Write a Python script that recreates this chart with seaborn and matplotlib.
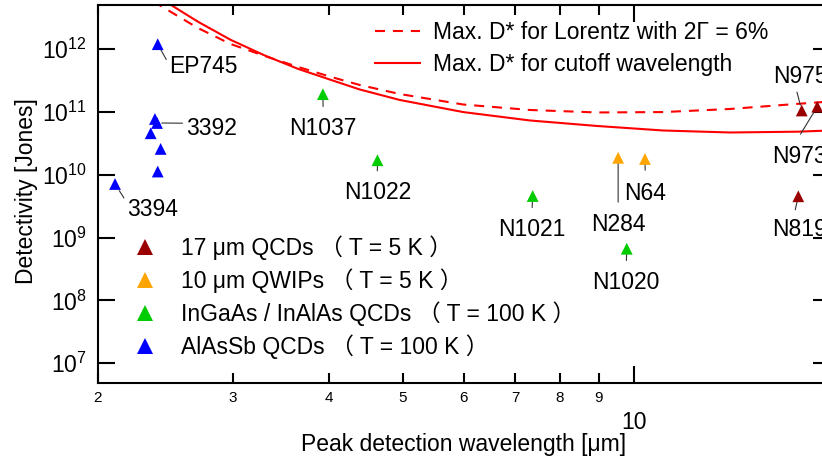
import numpy as np
import pandas as pd
import matplotlib
matplotlib.use("Agg")
import matplotlib.pyplot as plt
import seaborn as sns
from matplotlib.lines import Line2D
from matplotlib.ticker import FixedLocator, FixedFormatter, LogLocator, NullLocator

# ---------------- data ----------------
groups = ["17 μm QCDs", "10 μm QWIPs", "InGaAs / InAlAs QCDs", "AlAsSb QCDs"]
legend_labels = ["17 μm QCDs （ T = 5 K ）", "10 μm QWIPs （ T = 5 K ）",
                 "InGaAs / InAlAs QCDs （ T = 100 K ）", "AlAsSb QCDs （ T = 100 K ）"]
group_colors = ["#9A0000", "#FFA500", "#00CC00", "#0000FF"]

qcd17_names = ["N975", "N973", "N819"]
qcd17_wl = [16.56, 17.35, 16.39]
qcd17_D = [1.06e11, 1.22e11, 4.56e9]

qwip_names = ["N284", "N64"]
qwip_wl = [9.54, 10.34]
qwip_D = [1.87e10, 1.79e10]

ingaas_names = ["N1037", "N1022", "N1021", "N1020"]
ingaas_wl = [3.93, 4.63, 7.38, 9.79]
ingaas_D = [1.93e11, 1.71e10, 4.61e9, 6.66e8]

alassb_names = ["EP745", "", "3392", "", "", "", "3394"]
alassb_wl = [2.393, 2.373, 2.388, 2.343, 2.414, 2.393, 2.105]
alassb_D = [1.205e12, 7.76e10, 6.70e10, 4.60e10, 2.59e10, 1.13e10, 7.16e9]

# theoretical limits
lorentz_wl = [2.36, 2.70, 2.98, 3.30, 3.65, 4.03, 4.39, 4.95, 5.99, 7.32, 8.95, 10.92, 13.35, 16.33, 18.0]
lorentz_D = [5.8e12, 2.18e12, 1.21e12, 7.82e11, 5.22e11, 3.62e11, 2.70e11, 1.94e11, 1.32e11,
             1.08e11, 9.86e10, 1.0e11, 1.12e11, 1.35e11, 1.47e11]
cutoff_wl = [2.47, 2.70, 2.98, 3.30, 3.65, 4.03, 4.39, 4.95, 5.99, 7.32, 8.95, 10.92, 13.35, 16.33, 18.0]
cutoff_D = [5.4e12, 2.75e12, 1.41e12, 7.97e11, 4.86e11, 3.24e11, 2.29e11, 1.56e11, 1.0e11,
            7.35e10, 6.01e10, 5.09e10, 4.73e10, 4.87e10, 5.09e10]
line_labels = ["Max. D* for Lorentz with 2Γ = 6%", "Max. D* for cutoff wavelength"]

# ---------------- layout / style ----------------
# label layout: name -> (dx px, dy px (up +) to baseline, ha, relpos, shrinkA pt, shrinkB pt)
label_layout = {
    "EP745": (11.3, -29.1, "left", (0.0, 0.6), 0.0, 4.5),
    "3392": (28.7, -12.0, "left", (0.0, 0.73), 0.3, 3.4),
    "3394": (11.7, -32.0, "left", (0.0, 0.81), 0.0, 5.7),
    "N1037": (0.4, -40.8, "center", (0.5, 1.0), 5.5, 4.0),
    "N1022": (-0.2, -39.0, "center", (0.5, 1.0), 5.5, 4.0),
    "N1021": (-1.0, -40.0, "center", (0.5, 1.0), 5.5, 4.0),
    "N1020": (-0.7, -40.2, "center", (0.5, 1.0), 5.5, 4.0),
    "N284": (0.0, -73.2, "center", (0.5, 1.0), 5.8, 4.0),
    "N64": (0.5, -41.0, "center", (0.5, 1.0), 6.5, 4.0),
    "N975": (-28.7, 27.2, "left", (0.42, 0.0), 0.8, 4.0),
    "N973": (-45.3, -56.6, "left", (0.4, 1.0), 7.0, 2.0),
    "N819": (-26.3, -39.7, "left", (0.39, 1.0), 4.0, 4.0),
}

plt.rcParams.update({
    "mathtext.fontset": "custom",
    "mathtext.rm": "Liberation Sans",
    "mathtext.it": "Liberation Sans:italic",
    "mathtext.bf": "Liberation Sans:bold",
    "axes.linewidth": 1.5,
})
plt.rcParams["font.family"] = ["Liberation Sans", "Noto Sans CJK JP", "DejaVu Sans"]

W, H = 822, 461
fig = plt.figure(figsize=(W / 100, H / 100), dpi=100)
ax = fig.add_axes([98 / W, 1 - 383 / H, 731.5 / W, 378 / H])
ax.set_xscale("log")
ax.set_yscale("log")

# ---------------- curves ----------------
sns.lineplot(x=lorentz_wl, y=lorentz_D, ax=ax, color="#FF0000", lw=1.5, sort=False,
             estimator=None, zorder=2)
ax.get_lines()[-1].set_linestyle((0, (4.8, 3.8)))
sns.lineplot(x=cutoff_wl, y=cutoff_D, ax=ax, color="#FF0000", lw=1.5, sort=False,
             estimator=None, zorder=2)

# ---------------- points ----------------
all_names = qcd17_names + qwip_names + ingaas_names + alassb_names
all_wl = qcd17_wl + qwip_wl + ingaas_wl + alassb_wl
all_D = qcd17_D + qwip_D + ingaas_D + alassb_D
all_grp = ([groups[0]] * len(qcd17_wl) + [groups[1]] * len(qwip_wl)
           + [groups[2]] * len(ingaas_wl) + [groups[3]] * len(alassb_wl))
df = pd.DataFrame({"wl": all_wl, "D": all_D, "group": all_grp, "name": all_names})
sns.scatterplot(data=df, x="wl", y="D", hue="group", palette=dict(zip(groups, group_colors)),
                marker="^", s=72, linewidth=0, legend=False, ax=ax, zorder=4)

# ---------------- annotations ----------------
for _, r in df.iterrows():
    if not r["name"]:
        continue
    dx, dy, ha, relpos, sA, sB = label_layout[r["name"]]
    ax.annotate(r["name"], xy=(r["wl"], r["D"]), xytext=(dx * 0.72, dy * 0.72),
                textcoords="offset points", ha=ha, va="baseline", fontsize=16.5,
                color="black", annotation_clip=False,
                arrowprops=dict(arrowstyle="-", color="#333333", lw=0.8,
                                relpos=relpos, shrinkA=sA, shrinkB=sB),
                zorder=3)

# ---------------- axes ----------------
ax.set_xlim(2, 18)
ax.set_ylim(4.85e6, 5.07e12)
ax.xaxis.set_major_locator(FixedLocator([10]))
ax.xaxis.set_major_formatter(FixedFormatter(["10"]))
ax.xaxis.set_minor_locator(FixedLocator([2, 3, 4, 5, 6, 7, 8, 9]))
ax.xaxis.set_minor_formatter(FixedFormatter(["2", "3", "4", "5", "6", "7", "8", "9"]))
ax.yaxis.set_major_locator(LogLocator(base=10, numticks=20))
ax.yaxis.set_minor_locator(NullLocator())
ax.tick_params(axis="both", which="both", direction="in", top=True, right=True,
               colors="black", width=1.5)
ax.tick_params(axis="y", which="major", length=12, labelsize=16.5, pad=8)
ax.tick_params(axis="x", which="major", length=12, labelsize=16.5, pad=20)
ax.tick_params(axis="x", which="minor", length=7, labelsize=11, pad=6)

ax.set_xlabel("Peak detection wavelength [μm]", fontsize=16.5)
ax.xaxis.set_label_coords(0.4997, -(433 - 383) / 378)
ax.set_ylabel("Detectivity [Jones]", fontsize=16.5)
ax.yaxis.set_label_coords((38 - 98) / 731.5, 0.5066)

# ---------------- legends ----------------
line_handles = [Line2D([], [], color="#FF0000", lw=1.5, linestyle=(0, (4.8, 3.8))),
                Line2D([], [], color="#FF0000", lw=1.5)]
leg1 = ax.legend(line_handles, line_labels, loc="center left",
                 bbox_to_anchor=(375 / W, 1 - 48.5 / H), bbox_transform=fig.transFigure,
                 frameon=False, fontsize=16.5, handlelength=1.97, handletextpad=0.55,
                 labelspacing=0.37, borderpad=0, borderaxespad=0)
ax.add_artist(leg1)

marker_handles = [Line2D([], [], marker="^", color=c, linestyle="none", markersize=11,
                         markeredgewidth=0) for c in group_colors]
leg2 = ax.legend(marker_handles, legend_labels, loc="center left",
                 bbox_to_anchor=(133.5 / W, 1 - 296.9 / H), bbox_transform=fig.transFigure,
                 frameon=False, fontsize=16.5, handlelength=1.0, handletextpad=1.07,
                 labelspacing=0.37, borderpad=0, borderaxespad=0, numpoints=1)

fig.savefig("out.png", dpi=100)
